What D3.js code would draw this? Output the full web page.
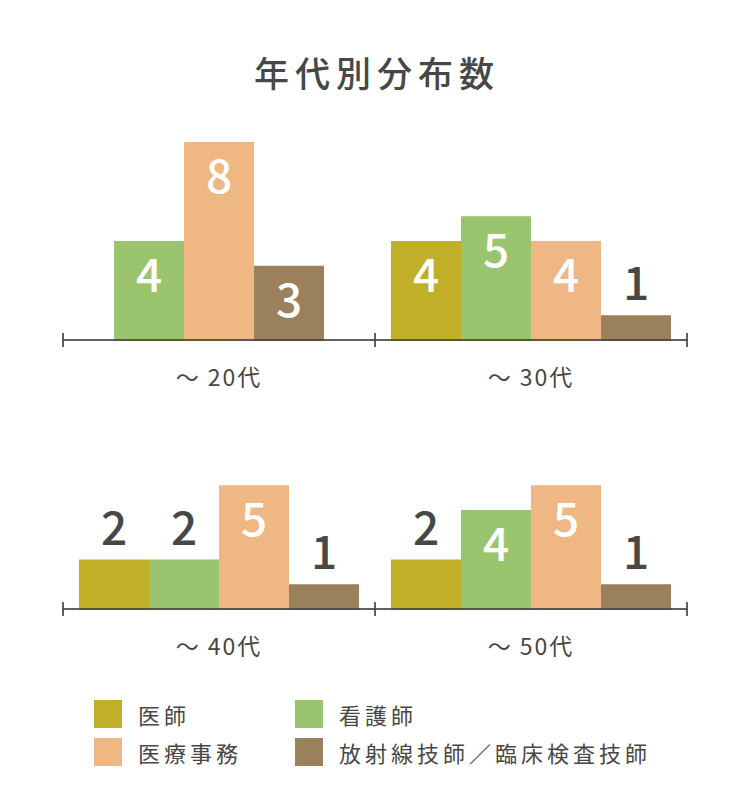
<!DOCTYPE html>
<html>
<head>
<meta charset="utf-8">
<script src="https://cdn.jsdelivr.net/npm/d3@7"></script>
<style>
  body { margin: 0; background: #fff; }
  text { font-family: "Noto Sans CJK JP", "Noto Sans", sans-serif; }
</style>
</head>
<body>
<div id="chart"></div>
<script>
// categories and series
const categories = ['医師', '看護師', '医療事務', '放射線技師／臨床検査技師'];
const ageGroups = ['～ 20代', '～ 30代', '～ 40代', '～ 50代'];
const doctor = [0, 4, 2, 2];
const nurse = [4, 5, 2, 4];
const clerk = [8, 4, 5, 5];
const tech = [3, 1, 1, 1];

const colors = ['#c1b027', '#9bc46e', '#eeb784', '#9a815b'];
const textColor = '#474745';

const width = 750, height = 808;
const series = [doctor, nurse, clerk, tech];

const svg = d3.select('#chart').append('svg')
    .attr('width', width)
    .attr('height', height);

// title
svg.append('text')
    .attr('x', width / 2 + 2)
    .attr('y', 71)
    .attr('text-anchor', 'middle')
    .attr('dominant-baseline', 'central')
    .attr('font-size', 35)
    .attr('font-weight', 500)
    .attr('letter-spacing', 6)
    .attr('fill', textColor)
    .text('年代別分布数');

// panel layout: 2 columns x 2 rows
const xPanel = d3.scaleBand().domain([0, 1]).range([63, 687]);
const baselines = [340, 609];
const barW = 70;
const maxVal = 8;

ageGroups.forEach(function (group, i) {
    const col = i % 2, row = Math.floor(i / 2);
    const base = baselines[row];
    const cx = xPanel(col) + xPanel.bandwidth() / 2;

    // only categories with a value get a bar
    const rows = categories.map((c, k) => ({ cat: c, value: series[k][i], color: colors[k] }))
        .filter(d => d.value > 0);

    const x = d3.scaleBand()
        .domain(rows.map(d => d.cat))
        .range([cx - rows.length * barW / 2, cx + rows.length * barW / 2]);

    const y = d3.scaleLinear()
        .domain([0, maxVal])
        .range([base, base - 198]);

    const g = svg.append('g');

    g.selectAll('rect')
        .data(rows)
        .enter().append('rect')
        .attr('x', d => x(d.cat))
        .attr('y', d => y(d.value))
        .attr('width', x.bandwidth())
        .attr('height', d => base - y(d.value) + 1)
        .attr('fill', d => d.color);

    // value labels: inside for tall bars, above for short ones
    g.selectAll('text.val')
        .data(rows)
        .enter().append('text')
        .attr('class', 'val')
        .attr('x', d => x(d.cat) + x.bandwidth() / 2)
        .attr('y', d => d.value >= 3 ? y(d.value) + 31 : y(d.value) - 35)
        .attr('text-anchor', 'middle')
        .attr('dominant-baseline', 'central')
        .attr('font-size', 46)
        .attr('font-weight', 500)
        .attr('fill', d => d.value >= 3 ? '#fff' : textColor)
        .text(d => d.value);

    // group label
    svg.append('text')
        .attr('x', cx)
        .attr('y', base + 36)
        .attr('text-anchor', 'middle')
        .attr('dominant-baseline', 'central')
        .attr('font-size', 23)
        .attr('letter-spacing', 2)
        .attr('fill', textColor)
        .text(group);
});

// axis lines with ticks, drawn on top of the bars
baselines.forEach(function (base) {
    const ax = svg.append('g')
        .attr('stroke', '#444')
        .attr('stroke-opacity', 0.85)
        .attr('stroke-width', 2);
    ax.append('line')
        .attr('x1', xPanel(0)).attr('x2', xPanel(1) + xPanel.bandwidth())
        .attr('y1', base).attr('y2', base);
    ax.selectAll('line.tick')
        .data([xPanel(0), xPanel(1), xPanel(1) + xPanel.bandwidth()])
        .enter().append('line')
        .attr('class', 'tick')
        .attr('x1', d => d).attr('x2', d => d)
        .attr('y1', base - 7).attr('y2', base + 7);
});

// legend
const legendPos = [[94, 700], [295, 700], [94, 738], [295, 738]];
const legend = svg.selectAll('g.legend')
    .data(categories)
    .enter().append('g')
    .attr('class', 'legend')
    .attr('transform', (d, k) => `translate(${legendPos[k][0]},${legendPos[k][1]})`);

legend.append('rect')
    .attr('width', 28)
    .attr('height', 28)
    .attr('fill', (d, k) => colors[k]);

legend.append('text')
    .attr('x', 44)
    .attr('y', 14)
    .attr('dominant-baseline', 'central')
    .attr('font-size', 22)
    .attr('letter-spacing', 4)
    .attr('fill', textColor)
    .text(d => d);
</script>
</body>
</html>
